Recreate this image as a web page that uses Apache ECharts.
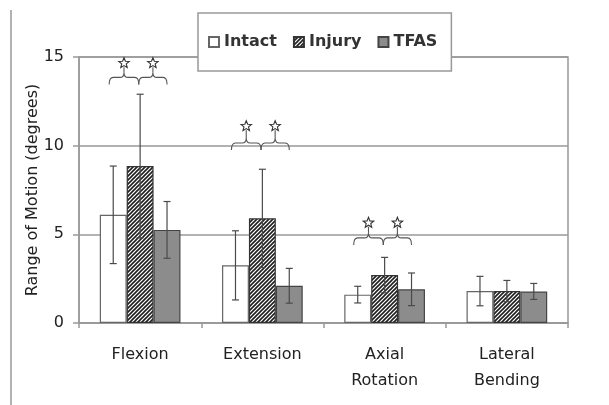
<!DOCTYPE html>
<html>
<head>
<meta charset="utf-8">
<script src="https://cdn.jsdelivr.net/npm/echarts@6/dist/echarts.min.js"></script>
<style>
html,body{margin:0;padding:0;background:#fff;}
#chart{width:609px;height:405px;}
</style>
</head>
<body>
<div id="chart"></div>
<script>
// ---- data ----
const categories = ['Flexion', 'Extension', 'Axial\nRotation', 'Lateral\nBending'];
const seriesNames = ['Intact', 'Injury', 'TFAS'];
const intactMean = [6.1, 3.25, 1.6, 1.8];
const intactSD   = [2.75, 1.95, 0.47, 0.83];
const injuryMean = [8.85, 5.9, 2.7, 1.8];
const injurySD   = [4.05, 2.77, 1.0, 0.6];
const tfasMean   = [5.25, 2.1, 1.9, 1.78];
const tfasSD     = [1.6, 0.98, 0.92, 0.45];
// significance brackets: category index, bracket level, star level
const sigCategory = [0, 1, 2];
const sigBracketY = [13.85, 10.15, 4.8];
const sigStarY    = [14.65, 11.1, 5.65];
const yTicks = [0, 5, 10, 15];

// ---- styles ----
const FONT = 'DejaVu Sans';
const BAR_FRAC = 0.22;
const hatch = (function () {
  const c = document.createElement('canvas');
  c.width = 4; c.height = 4;
  const g = c.getContext('2d');
  g.fillStyle = '#ffffff'; g.fillRect(0, 0, 4, 4);
  g.strokeStyle = '#1e1e1e'; g.lineWidth = 1.6;
  g.beginPath();
  g.moveTo(-1, 5); g.lineTo(5, -1);
  g.moveTo(-1, 1); g.lineTo(1, -1);
  g.moveTo(3, 5); g.lineTo(5, 3);
  g.stroke();
  return c;
})();

const chart = echarts.init(document.getElementById('chart'), null, {renderer: 'canvas'});

function errSeries(means, sds, offsetIndex) {
  return {
    type: 'custom',
    z: 5,
    silent: true,
    data: means.map((m, i) => [i, m - sds[i], m + sds[i]]),
    renderItem: function (params, api) {
      const band = api.size([1, 0])[0];
      const w = band * BAR_FRAC;
      const lo = api.coord([api.value(0), api.value(1)]);
      const hi = api.coord([api.value(0), api.value(2)]);
      const x = lo[0] + offsetIndex * w;
      const cap = 3.5;
      const st = {stroke: '#4a4a4a', lineWidth: 1.2};
      return {
        type: 'group',
        children: [
          {type: 'line', shape: {x1: x, y1: lo[1], x2: x, y2: hi[1]}, style: st},
          {type: 'line', shape: {x1: x - cap, y1: lo[1], x2: x + cap, y2: lo[1]}, style: st},
          {type: 'line', shape: {x1: x - cap, y1: hi[1], x2: x + cap, y2: hi[1]}, style: st}
        ]
      };
    }
  };
}

function starPoints(cx, cy, R, r) {
  const pts = [];
  for (let k = 0; k < 10; k++) {
    const ang = -Math.PI / 2 + k * Math.PI / 5;
    const rad = k % 2 === 0 ? R : r;
    pts.push([cx + rad * Math.cos(ang), cy + rad * Math.sin(ang)]);
  }
  return pts;
}

function bracePath(x1, x2, y) {
  const xm = (x1 + x2) / 2;
  const h = 7, p = 5, c = 4;
  return 'M' + x1 + ',' + (y + h) +
    ' Q' + x1 + ',' + y + ' ' + (x1 + c) + ',' + y +
    ' L' + (xm - c) + ',' + y +
    ' Q' + xm + ',' + y + ' ' + xm + ',' + (y - p) +
    ' Q' + xm + ',' + y + ' ' + (xm + c) + ',' + y +
    ' L' + (x2 - c) + ',' + y +
    ' Q' + x2 + ',' + y + ' ' + x2 + ',' + (y + h);
}

const sigSeries = {
  type: 'custom',
  z: 6,
  silent: true,
  data: sigCategory.map((c, i) => [c, sigBracketY[i], sigStarY[i]]),
  renderItem: function (params, api) {
    const band = api.size([1, 0])[0];
    const w = band * BAR_FRAC;
    const b = api.coord([api.value(0), api.value(1)]);
    const s = api.coord([api.value(0), api.value(2)]);
    const c = b[0];
    const spans = [[c - 1.15 * w, c - 0.05 * w], [c - 0.05 * w, c + 1.0 * w]];
    const st = {stroke: '#555', lineWidth: 1.1, fill: null};
    const children = [];
    spans.forEach(sp => {
      const xm = (sp[0] + sp[1]) / 2;
      children.push({type: 'path', shape: {pathData: bracePath(sp[0], sp[1], b[1])}, style: st});
      children.push({type: 'line', shape: {x1: xm, y1: b[1] - 5, x2: xm, y2: s[1] + 4}, style: {stroke: '#555', lineWidth: 1.1}});
      children.push({type: 'polygon', shape: {points: starPoints(xm, s[1], 5.5, 2.4)}, style: {fill: '#fff', stroke: '#333', lineWidth: 1.1}});
    });
    return {type: 'group', children: children};
  }
};

const option = {
  animation: false,
  backgroundColor: '#ffffff',
  textStyle: {fontFamily: FONT},
  grid: {left: 79, right: 41, top: 57, bottom: 82, show: true, borderColor: '#999', borderWidth: 1.5, backgroundColor: 'transparent'},
  legend: {
    data: seriesNames,
    left: 198, top: 13,
    orient: 'horizontal',
    icon: 'rect',
    itemWidth: 10, itemHeight: 10,
    itemGap: 16,
    padding: [21, 14, 21, 10],
    backgroundColor: '#fff',
    borderColor: '#999', borderWidth: 1.5, borderRadius: 0,
    selectedMode: false,
    textStyle: {fontFamily: FONT, fontSize: 16, fontWeight: 'bold', color: '#333'}
  },
  xAxis: {
    type: 'category',
    data: categories,
    axisLine: {show: true, lineStyle: {color: '#999', width: 1.5}},
    axisTick: {show: true, length: 5, interval: 0, alignWithLabel: false, lineStyle: {color: '#999', width: 1.5}},
    axisLabel: {interval: 0, margin: 19, fontFamily: FONT, fontSize: 16, lineHeight: 26, color: '#222'},
    splitLine: {show: false}
  },
  yAxis: {
    type: 'value',
    min: yTicks[0], max: yTicks[yTicks.length - 1], interval: yTicks[1] - yTicks[0],
    name: 'Range of Motion (degrees)',
    nameLocation: 'middle',
    nameGap: 38,
    nameMoveOverlap: false,
    nameTextStyle: {fontFamily: FONT, fontSize: 16, color: '#222'},
    axisLine: {show: true, lineStyle: {color: '#999', width: 1.5}},
    axisTick: {show: true, length: 6, lineStyle: {color: '#999', width: 1.5}},
    axisLabel: {margin: 15, fontFamily: FONT, fontSize: 16, color: '#222'},
    splitLine: {show: true, lineStyle: {color: '#999', width: 1.5}}
  },
  graphic: [
    {type: 'line', shape: {x1: 11, y1: 10, x2: 11, y2: 405}, style: {stroke: '#999', lineWidth: 1.5}}
  ],
  series: [
    {name: 'Intact', type: 'bar', barWidth: (BAR_FRAC * 100) + '%', barGap: '0%', data: intactMean,
     itemStyle: {color: '#ffffff', borderColor: '#666', borderWidth: 1.2}},
    {name: 'Injury', type: 'bar', barWidth: (BAR_FRAC * 100) + '%', barGap: '0%', data: injuryMean,
     itemStyle: {color: {image: hatch, repeat: 'repeat'}, borderColor: '#333', borderWidth: 1.2}},
    {name: 'TFAS', type: 'bar', barWidth: (BAR_FRAC * 100) + '%', barGap: '0%', data: tfasMean,
     itemStyle: {color: '#8c8c8c', borderColor: '#444', borderWidth: 1.2}},
    errSeries(intactMean, intactSD, -1),
    errSeries(injuryMean, injurySD, 0),
    errSeries(tfasMean, tfasSD, 1),
    sigSeries
  ]
};
chart.setOption(option);
</script>
</body>
</html>
